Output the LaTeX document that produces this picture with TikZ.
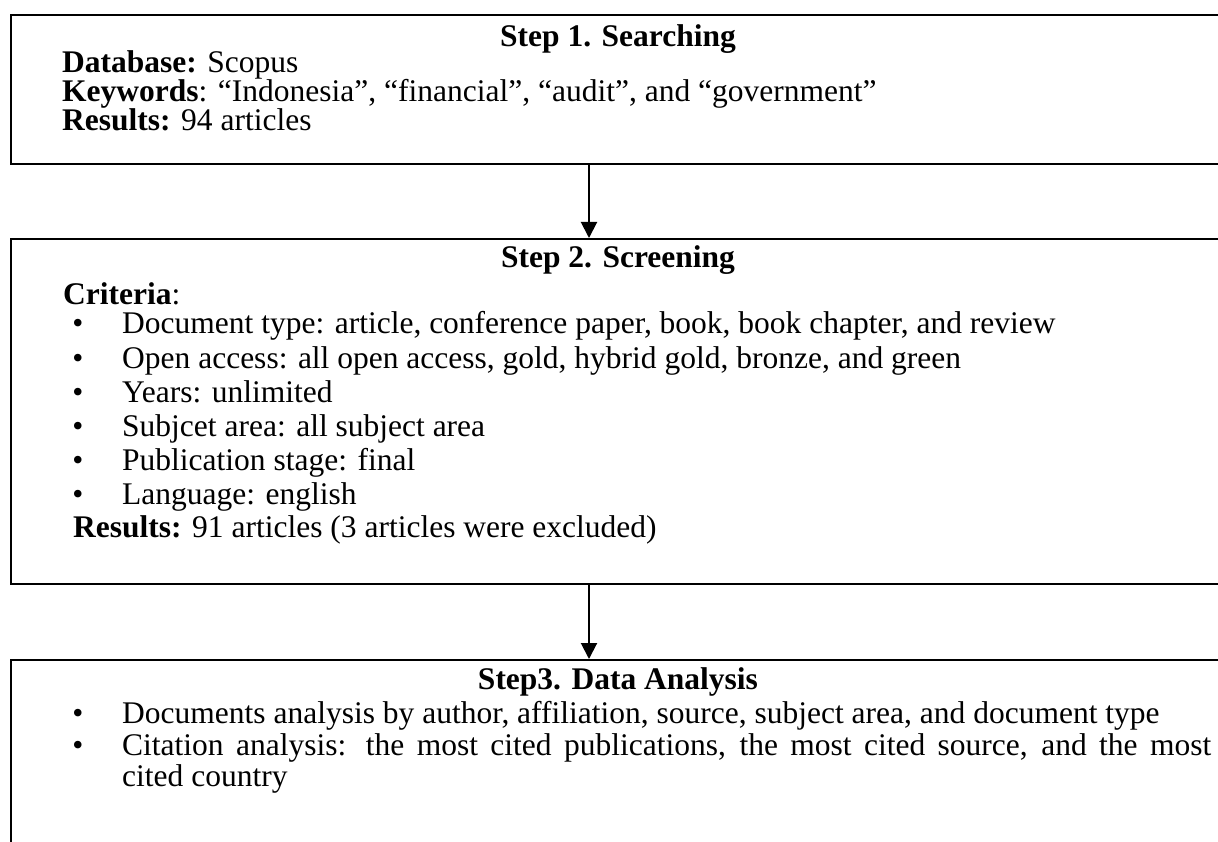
\documentclass[tikz,border=0pt]{standalone}
\usepackage{fontspec}
\setmainfont{Liberation Serif}
\usetikzlibrary{arrows.meta}
\begin{document}
\begin{tikzpicture}[x=1pt,y=-1pt,
  stepbox/.style={draw=black, line width=2.2pt, anchor=north west, inner sep=0pt, minimum width=1216pt},
  txt/.style={anchor=base west, inner sep=0pt, font=\fontsize{31.5}{34}\selectfont},
  ttl/.style={anchor=base, inner sep=0pt, font=\fontsize{31.5}{34}\selectfont\bfseries},
  bul/.style={anchor=base, inner sep=0pt, font=\fontsize{31.5}{34}\selectfont},
  flow/.style={line width=2pt, -{Triangle[width=16pt,length=16pt]}}]
\useasboundingbox (0,0) rectangle (1218,842);
\clip (0,0) rectangle (1218,842);
% boxes
\node[stepbox, minimum height=149pt] (box1) at (10,14) {};
\node[stepbox, minimum height=345pt] (box2) at (10,238) {};
\node[stepbox, minimum height=260pt] (box3) at (10,659) {};
% box 1
\node[ttl] (t1) at (618,47) {Step 1. Searching};
\node[txt] (db) at (62,73) {\textbf{Database:} Scopus};
\node[txt] (kw) at (62,102) {\textbf{Keywords}: “Indonesia”, “financial”, “audit”, and “government”};
\node[txt] (r1) at (62,131) {\textbf{Results:} 94 articles};
% box 2
\node[ttl] (t2) at (618,268) {Step 2. Screening};
\node[txt] (cr) at (63,305) {\textbf{Criteria}:};
\foreach \y/\t [count=\i] in {334/{Document type: article, conference paper, book, book chapter, and review},
  368/{Open access: all open access, gold, hybrid gold, bronze, and green},
  402/{Years: unlimited},
  436/{Subjcet area: all subject area},
  470/{Publication stage: final},
  504/{Language: english}}{
  \node[bul] (b2\i) at (78,\y) {\textbullet};
  \node[txt] (c2\i) at (122,\y) {\t};
}
\node[txt] (r2) at (73,537) {\textbf{Results:} 91 articles (3 articles were excluded)};
% box 3
\node[ttl] (t3) at (618,689) {Step3. Data Analysis};
\node[bul] (b31) at (78,723) {\textbullet};
\node[txt] (c31) at (122,723) {Documents analysis by author, affiliation, source, subject area, and document type};
\node[bul] (b32) at (78,755) {\textbullet};
\node[txt] (c32) at (122,755) {\makebox[1089pt][s]{Citation analysis: the most cited publications, the most cited source, and the most}};
\node[txt] (c33) at (122,786) {cited country};
% arrows
\coordinate (ax) at (589,0);
\draw[flow] (box1.south -| ax) -- (box2.north -| ax);
\draw[flow] (box2.south -| ax) -- (box3.north -| ax);
\end{tikzpicture}
\end{document}
